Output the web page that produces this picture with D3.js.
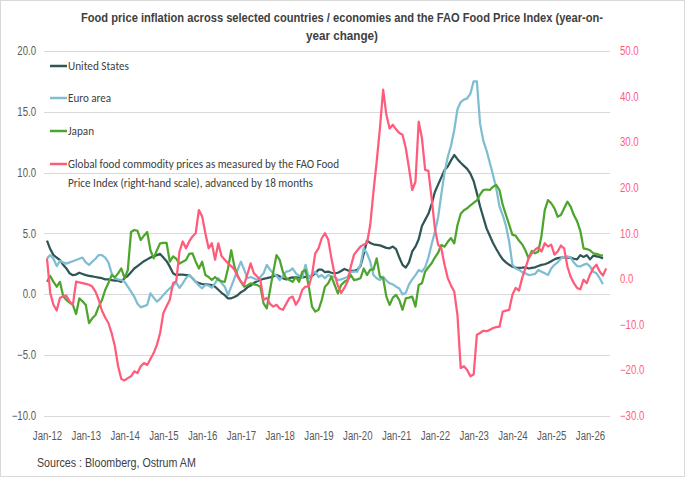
<!DOCTYPE html>
<html>
<head>
<meta charset="utf-8">
<script src="https://cdn.jsdelivr.net/npm/d3@7"></script>
<style>
  body { margin: 0; background: #fff; }
  svg { display: block; }
  .narrow, .narrow text { font-family: "Liberation Sans", Arial, sans-serif; }
</style>
</head>
<body>
<svg id="chart" width="686" height="478"></svg>
<script>
// monthly data, index 0 = Jan-12
var xTickLabels = ['Jan-12','Jan-13','Jan-14','Jan-15','Jan-16','Jan-17','Jan-18','Jan-19',
                   'Jan-20','Jan-21','Jan-22','Jan-23','Jan-24','Jan-25','Jan-26'];
var leftTicks = [20, 15, 10, 5, 0, -5, -10];
var rightTicks = [50, 40, 30, 20, 10, 0, -10, -20, -30];

var unitedStates = [
  4.4, 3.7, 3.2, 3.0, 2.8, 2.4, 2.1, 1.7, 1.55, 1.6, 1.75, 1.65,
  1.55, 1.5, 1.45, 1.4, 1.35, 1.3, 1.2, 1.2, 1.15, 1.1, 1.1, 1.0,
  1.3, 1.5, 1.8, 2.1, 2.3, 2.5, 2.7, 2.85, 3.0, 3.1, 3.2, 3.3,
  3.0, 2.7, 2.25, 1.7, 1.55, 1.6, 1.6, 1.55, 1.55, 1.3, 1.0, 0.9,
  0.82, 0.8, 0.78, 0.74, 0.6, 0.35, 0.1, -0.1, -0.36, -0.35, -0.25, -0.1,
  0.15, 0.3, 0.55, 0.7, 0.9, 1.05, 1.15, 1.25, 1.3, 1.37, 1.45, 1.56,
  1.45, 1.3, 1.2, 1.3, 1.37, 1.35, 1.37, 1.37, 1.4, 1.45, 1.5, 1.7,
  2.0, 2.0, 1.8, 1.84, 1.75, 1.7, 1.75, 1.9, 2.06, 1.95, 1.9, 1.9,
  2.0, 2.3, 3.3, 4.4, 4.2, 4.09, 4.05, 4.0, 3.9, 3.8, 3.76, 3.9,
  3.7, 3.0, 2.4, 2.17, 2.6, 3.5, 3.9, 4.5, 5.6, 6.1, 6.6, 7.4,
  8.4, 9.0, 9.6, 10.2, 10.5, 11.0, 11.44, 11.1, 10.8, 10.55, 10.3, 9.9,
  9.3, 8.3, 7.2, 6.3, 5.4, 4.8, 4.2, 3.7, 3.25, 2.85, 2.6, 2.4,
  2.25, 2.17, 2.15, 2.17, 2.2, 2.1, 2.15, 2.2, 2.3, 2.4, 2.45, 2.55,
  2.7, 2.85, 2.95, 3.0, 3.0, 3.0, 3.0, 2.9, 2.85, 3.2, 3.05, 3.2,
  2.85, 3.15, 3.1, 3.05, 2.93
];

var euroArea = [
  2.93, 3.2, 2.9, 2.3, 2.74, 2.6, 2.5, 2.6, 2.7, 2.8, 2.9, 3.0,
  2.6, 2.4, 2.66, 2.9, 3.2, 3.2, 3.0, 2.6, 1.7, 1.3, 1.2, 1.15,
  1.0, 0.6, 0.2, -0.22, -0.8, -1.1, -1.0, -0.9, 0.05, -0.3, -0.63, -0.4,
  -0.08, 0.2, 0.47, 0.7, 0.93, 0.5, 0.88, 1.3, 1.56, 1.3, 1.0, 0.7,
  0.47, 0.74, 0.7, 0.52, 0.9, 1.3, 0.9, 0.6, -0.08, 0.6, 1.3, 2.0,
  2.66, 2.0, 1.3, 1.4, 1.3, 1.15, 1.4, 1.7, 2.4, 2.0, 1.7, 1.5,
  1.15, 1.5, 1.84, 1.9, 2.1, 1.7, 1.5, 1.4, 2.4, 1.3, 1.6, 1.84,
  1.4, 1.56, 1.3, 1.56, 1.45, 1.4, 1.15, 1.2, 1.3, 1.4, 1.8, 1.84,
  1.84, 2.4, 3.76, 3.35, 2.66, 1.56, 1.3, 1.15, 1.43, 1.1, 0.88, 0.8,
  0.6, 0.45, -0.03, 0.1, 0.8, 1.2, 1.56, 1.97, 1.84, 2.2, 3.0, 4.1,
  5.1, 6.3, 8.2, 10.0, 11.3, 12.2, 13.5, 15.2, 15.8, 16.0, 16.1, 16.5,
  17.5, 17.5, 14.0, 12.6, 11.8, 10.8, 9.8, 8.7, 7.2, 6.5, 5.6, 4.3,
  2.4, 2.1, 2.0, 1.8, 1.7, 1.56, 1.6, 1.65, 1.97, 1.84, 1.7, 1.56,
  2.1, 2.4, 2.6, 2.93, 3.0, 3.1, 3.0, 2.6, 2.3, 2.27, 2.4, 2.5,
  2.27, 1.84, 1.7, 1.3, 0.8
];

var japan = [
  1.0, 1.48, 1.0, 0.6, 1.0, -0.16, -0.5, -0.7, -0.9, -1.65, -0.36, -0.6,
  -0.9, -2.4, -2.0, -1.73, -1.04, -0.5, 0.33, 0.9, 1.56, 1.37, 1.7, 2.1,
  1.3, 1.97, 5.1, 5.27, 5.2, 4.44, 4.8, 5.1, 3.6, 2.93, 3.6, 4.17,
  4.2, 4.2, 2.66, 3.1, 2.9, 2.5, 2.66, 2.8, 3.3, 3.35, 2.66, 2.1,
  2.66, 1.56, 1.4, 1.15, 1.4, 1.15, 1.05, 1.0, 2.1, 3.6, 2.25, 1.5,
  1.0, 0.6, 0.7, 0.88, 0.8, 0.74, 0.6, -0.77, -1.18, 0.33, 1.8, 3.2,
  2.8, 1.8, 1.3, 1.15, 1.0, 1.4, 1.0, 1.84, 1.97, 0.6, -1.04, -1.45,
  -1.3, -0.5, 0.6, 0.88, 1.43, 0.74, 0.05, 0.74, 1.0, 1.15, 1.56, 1.15,
  1.2, 1.3, 2.1, 1.56, 2.0, 2.0, 2.93, 1.43, 1.3, -0.22, -0.9, -0.3,
  -0.08, -0.5, -1.3, -0.36, -0.3, -0.22, -1.04, 0.74, 0.88, 1.84, 2.2, 2.53,
  3.0, 3.4, 4.03, 3.9, 4.3, 4.6, 4.17, 5.68, 6.6, 6.9, 7.05, 7.3,
  7.5, 7.7, 8.2, 8.56, 8.6, 8.56, 8.83, 8.97, 8.56, 7.33, 6.5, 5.7,
  4.86, 4.8, 4.4, 4.1, 3.6, 2.93, 3.54, 3.35, 3.5, 4.8, 6.9, 7.73,
  7.47, 7.05, 6.36, 6.5, 7.05, 7.6, 7.2, 6.5, 6.0, 5.2, 3.76, 3.7,
  3.6, 3.35, 3.3, 3.2, 3.15
];

// FAO Food Price Index y/y, advanced by 18 months (right-hand scale)
var faoIndex = [
  4.5, -3.1, -5.7, -6.95, -4.2, -3.8, -3.7, -5.0, -5.7, -0.6, -0.8, -0.95,
  -1.1, -1.3, -1.7, -2.8, -4.6, -7.0, -8.5, -9.7, -11.9, -14.8, -19.2, -22.0,
  -22.3, -21.8, -21.4, -20.3, -20.7, -19.2, -18.5, -18.9, -17.6, -16.3, -14.5, -11.9,
  -7.5, -6.0, -4.6, -0.95, -0.5, 6.0, 8.2, 6.7, 8.2, 9.3, 10.0, 15.1,
  13.7, 10.0, 6.7, 7.8, 4.2, 7.8, 5.0, 4.2, 3.4, 2.8, 2.0, 0.5,
  -0.6, -1.3, 1.0, 3.4, 1.25, 0.5, -0.2, -4.6, -4.2, -5.5, -6.1, -5.7,
  -6.5, -6.8, -5.5, -4.2, -3.9, -5.7, -4.5, -2.4, -1.7, -1.7, 0.9, 5.6,
  6.7, 8.9, 10.0, 8.6, 4.5, 0.9, -1.5, -3.1, -2.0, -0.6, 2.7, 5.3,
  6.2, 7.1, 7.5, 7.8, 11.8, 19.1, 25.7, 33.0, 41.5, 36.0, 33.0, 33.8,
  32.8, 32.0, 31.6, 28.7, 24.3, 19.5, 21.3, 34.5, 30.9, 23.9, 23.7, 17.7,
  11.1, 7.5, 6.7, 3.1, 0.15, -1.5, -2.8, -8.0, -19.6, -19.2, -20.0, -21.4,
  -21.0, -12.3, -11.9, -11.4, -11.5, -11.2, -10.8, -10.6, -10.5, -7.2, -7.0, -6.8,
  -3.5, -2.0, -2.6, 0.15, 2.3, 4.5, 5.6, 6.4, 6.9, 6.0, 7.8, 7.1,
  7.5, 5.3, 6.0, 7.3, 6.7, 2.7, 0.5, -0.95, -2.0, -2.3, -0.2, -0.95,
  0.9, 2.3, 3.1, 1.6, 0.7, 2.3
];

var seriesNames = ['United States', 'Euro area', 'Japan',
  'Global food commodity prices as measured by the FAO Food',
  'Price Index (right-hand scale), advanced by 18 months'];

var svg = d3.select('#chart');

// squeeze Liberation Sans to an Arial Narrow-like width
function squeeze(sel, factor) {
    sel.each(function() {
        var w = this.getComputedTextLength();
        d3.select(this).attr('textLength', w * factor).attr('lengthAdjust', 'spacingAndGlyphs');
    });
}

// outer frame
svg.append('rect')
    .attr('x', 0.5).attr('y', 0.5)
    .attr('width', 684).attr('height', 476)
    .style('fill', 'none').style('stroke', '#d9d9d9');

var x = d3.scaleLinear().domain([0, 168]).range([47, 590]);
var yL = d3.scaleLinear().domain([-10, 20]).range([415.5, 51]);
var yR = d3.scaleLinear().domain([-30, 50]).range([415.5, 51]);

// title
var title = svg.append('g').attr('class', 'narrow')
    .style('font-weight', 'bold').style('font-size', '12.5px').style('fill', '#404040');
title.append('text').attr('x', 342).attr('y', 22).attr('text-anchor', 'middle')
    .attr('textLength', 522).attr('lengthAdjust', 'spacingAndGlyphs')
    .text('Food price inflation across selected countries / economies and the FAO Food Price Index (year-on-');
title.append('text').attr('x', 342).attr('y', 40).attr('text-anchor', 'middle')
    .attr('textLength', 72).attr('lengthAdjust', 'spacingAndGlyphs')
    .text('year change)');

// gridlines (left axis)
svg.append('g').selectAll('line').data(leftTicks).enter().append('line')
    .attr('x1', 44).attr('x2', 610)
    .attr('y1', function(d) { return Math.round(yL(d)) + 0.5; })
    .attr('y2', function(d) { return Math.round(yL(d)) + 0.5; })
    .style('stroke', '#d9d9d9').style('stroke-width', 1);

// left axis
var axisL = d3.axisLeft(yL).tickValues(leftTicks).tickSize(0).tickPadding(0)
    .tickFormat(d3.format('.1f'));
var gL = svg.append('g').attr('class', 'narrow').attr('transform', 'translate(36,0)').call(axisL);
gL.select('.domain').remove();
gL.selectAll('text').style('font-size', '12px').style('fill', '#595959')
    .style('font-family', '"Liberation Sans", Arial, sans-serif');
squeeze(gL.selectAll('text'), 0.8);

// right axis
var axisR = d3.axisRight(yR).tickValues(rightTicks).tickSize(0).tickPadding(0)
    .tickFormat(d3.format('.1f'));
var gR = svg.append('g').attr('class', 'narrow').attr('transform', 'translate(620,0)').call(axisR);
gR.select('.domain').remove();
gR.selectAll('text').style('font-size', '12px').style('fill', '#ff5c7c')
    .style('font-family', '"Liberation Sans", Arial, sans-serif');
squeeze(gR.selectAll('text'), 0.8);

// x axis labels
var axisX = d3.axisBottom(x).tickValues(xTickLabels.map(function(d, i) { return i * 12; }))
    .tickSize(0).tickPadding(0)
    .tickFormat(function(d, i) { return xTickLabels[i]; });
var gX = svg.append('g').attr('class', 'narrow').attr('transform', 'translate(0,431)').call(axisX);
gX.select('.domain').remove();
gX.selectAll('text').style('font-size', '12px').style('fill', '#595959')
    .style('font-family', '"Liberation Sans", Arial, sans-serif');
squeeze(gX.selectAll('text'), 0.8);

// lines
function lineFor(scale) {
    return d3.line()
        .x(function(d, i) { return x(i); })
        .y(function(d) { return scale(d); });
}

var series = [
    { values: unitedStates, color: '#2e5656', scale: yL },
    { values: euroArea,     color: '#7fbdd2', scale: yL },
    { values: japan,        color: '#4ea52e', scale: yL },
    { values: faoIndex,     color: '#ff5c7c', scale: yR }
];

svg.append('g').selectAll('path').data(series).enter().append('path')
    .attr('d', function(d) { return lineFor(d.scale)(d.values); })
    .style('fill', 'none')
    .style('stroke', function(d) { return d.color; })
    .style('stroke-width', 2.25)
    .style('stroke-linejoin', 'round');

// legend
var legendY = [66, 98, 131, 164];
var legendW = [61, 43, 26, 271, 245];
var legend = svg.append('g').style('font-family', 'Carlito, Lato, "Open Sans", sans-serif')
    .style('font-size', '12px').style('fill', '#404040');
series.forEach(function(s, i) {
    legend.append('line')
        .attr('x1', 50).attr('x2', 67)
        .attr('y1', legendY[i]).attr('y2', legendY[i])
        .style('stroke', s.color).style('stroke-width', 2.5);
});
seriesNames.forEach(function(name, i) {
    var yy = i < 4 ? legendY[i] : 183;
    legend.append('text')
        .attr('x', 68).attr('y', yy + 4)
        .attr('textLength', legendW[i]).attr('lengthAdjust', 'spacingAndGlyphs')
        .text(name);
});

// source
var source = svg.append('text').attr('class', 'narrow')
    .attr('x', 37).attr('y', 467)
    .style('font-size', '13px').style('fill', '#404040')
    .text('Sources : Bloomberg, Ostrum AM');
squeeze(source, 0.82);
</script>
</body>
</html>
